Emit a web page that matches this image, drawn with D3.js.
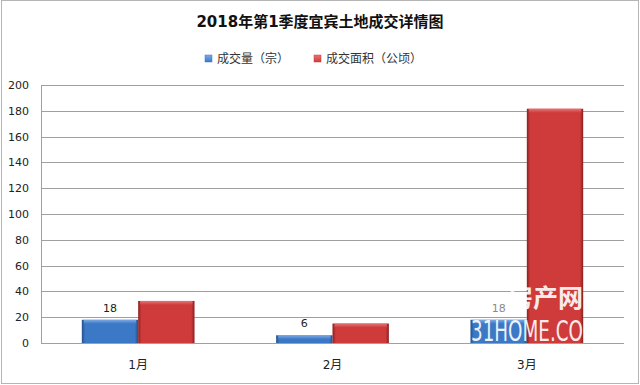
<!DOCTYPE html>
<html>
<head>
<meta charset="utf-8">
<script src="https://cdn.jsdelivr.net/npm/d3@7"></script>
<style>
  html, body { margin: 0; padding: 0; background: #fff; }
  svg text { font-family: "DejaVu Sans", "Noto Sans CJK SC", sans-serif; }
</style>
</head>
<body>
<svg id="chart" width="640" height="385"></svg>
<script>
const months = ["1月", "2月", "3月"];
const seriesNames = ["成交量（宗）", "成交面积（公顷）"];
const deals = [18, 6, 18];
const area = [32.6, 15.1, 181.6];
const yTicks = [0, 20, 40, 60, 80, 100, 120, 140, 160, 180, 200];

const W = 640, H = 385;
const M = { l: 41, r: 16, t: 85, b: 42 };
const svg = d3.select("#chart");
const defs = svg.append("defs");

// bevel look for the bars
function bevel(id, edge, mid, light) {
    const h = defs.append("linearGradient").attr("id", id + "-h").attr("x1", 0).attr("x2", 1).attr("y1", 0).attr("y2", 0);
    [[0, edge], [0.06, mid], [0.94, mid], [1, edge]].forEach(s => h.append("stop").attr("offset", s[0]).attr("stop-color", s[1]));
    const v = defs.append("linearGradient").attr("id", id + "-v").attr("x1", 0).attr("x2", 0).attr("y1", 0).attr("y2", 1);
    [[0, light], [1, mid]].forEach(s => v.append("stop").attr("offset", s[0]).attr("stop-color", s[1]));
}
bevel("blue", "#24508c", "#3b78c6", "#7eaae6");
bevel("red", "#8c1f1f", "#cf3b3b", "#e67474");
const colors = ["blue", "red"];
const flat = ["#3b78c6", "#cf3b3b"];

svg.append("rect").attr("x", 1.5).attr("y", 0.5).attr("width", W - 3).attr("height", H - 2)
    .attr("fill", "#fff").attr("stroke", "#b5b5b5");

svg.append("text").attr("x", 320).attr("y", 27).attr("text-anchor", "middle")
    .attr("font-family", "Noto Sans CJK SC").attr("font-weight", "bold").attr("font-size", 15)
    .attr("fill", "#111").text("2018年第1季度宜宾土地成交详情图");

const legX = [205, 314];
seriesNames.forEach((n, i) => {
    const g = svg.append("g").attr("transform", `translate(${legX[i]},55)`);
    g.append("rect").attr("width", 7).attr("height", 7).attr("fill", `url(#${colors[i]}-v)`).attr("stroke", flat[i]).attr("stroke-width", 0.5);
    g.append("text").attr("x", 12).attr("y", 7.5).attr("font-family", "Noto Sans CJK SC").attr("font-size", 12)
        .attr("fill", "#333").text(n);
});

const x = d3.scaleBand().domain(months).range([M.l, W - M.r]).paddingInner(0.42).paddingOuter(0.21);
const x1 = d3.scaleBand().domain([0, 1]).range([0, x.bandwidth()]);
const y = d3.scaleLinear().domain([0, 200]).range([H - M.b, M.t]);

svg.append("g").selectAll("line").data(yTicks).join("line")
    .attr("x1", M.l).attr("x2", W - M.r).attr("y1", d => Math.round(y(d)) + 0.5).attr("y2", d => Math.round(y(d)) + 0.5)
    .attr("stroke", "#a0a0a0");
svg.append("line").attr("x1", M.l + 0.5).attr("x2", M.l + 0.5).attr("y1", y(200)).attr("y2", y(0)).attr("stroke", "#a0a0a0");

const yAxis = svg.append("g").attr("transform", `translate(${M.l},0)`)
    .call(d3.axisLeft(y).tickValues(yTicks).tickSize(0).tickPadding(12));
yAxis.select(".domain").remove();
yAxis.selectAll("text").attr("font-size", 11).attr("fill", "#222");

const xAxis = svg.append("g").attr("transform", `translate(0,${H - M.b})`)
    .call(d3.axisBottom(x).tickSize(0).tickPadding(17));
xAxis.select(".domain").remove();
xAxis.selectAll("text").attr("font-family", "Noto Sans CJK SC").attr("font-size", 12).attr("fill", "#222");

const rows = months.map((m, i) => [deals[i], area[i]]);
const groups = svg.append("g").selectAll("g").data(rows).join("g")
    .attr("transform", (d, i) => `translate(${x(months[i])},0)`);
groups.each(function (d, i) {
    const g = d3.select(this);
    d.forEach((v, k) => {
        const bx = x1(k), bw = x1.bandwidth(), by = y(v), bh = y(0) - y(v);
        g.append("rect").attr("x", bx).attr("y", by).attr("width", bw).attr("height", bh)
            .attr("fill", `url(#${colors[k]}-h)`);
        g.append("rect").attr("x", bx + 2).attr("y", by).attr("width", bw - 4).attr("height", Math.min(4, bh))
            .attr("fill", `url(#${colors[k]}-v)`);
    });
    // the last label sits under the watermark and looks faded
    g.append("text").attr("x", x1(0) + x1.bandwidth() / 2).attr("y", y(d[0]) - 8)
        .attr("text-anchor", "middle").attr("font-size", 11).attr("fill", i === 2 ? "#8a8a8a" : "#222").text(d[0]);
});

// site watermark over the last group
const wm = svg.append("g").attr("fill", "#fff").attr("opacity", 0.9);
wm.append("text").attr("x", 508).attr("y", 307).attr("font-family", "Noto Sans CJK SC").attr("font-weight", "bold")
    .attr("font-size", 25).text("房产网");
wm.append("text").attr("x", 471).attr("y", 341).attr("font-family", "DejaVu Sans").attr("font-size", 28)
    .attr("textLength", 112).attr("lengthAdjust", "spacingAndGlyphs").text("31HOME.CO");
</script>
</body>
</html>
